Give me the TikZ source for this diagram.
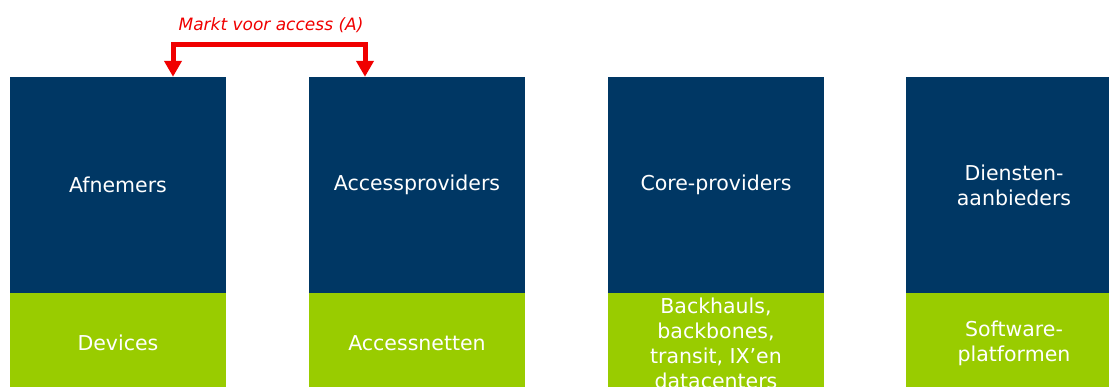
\documentclass[tikz,border=0pt]{standalone}
\usepackage{fontspec}
\setmainfont{DejaVu Sans}
\usetikzlibrary{arrows.meta}
\definecolor{kpnblue}{RGB}{0,55,100}
\definecolor{kpngreen}{RGB}{153,204,0}
\definecolor{kpnred}{RGB}{240,0,0}
\begin{document}
\begin{tikzpicture}
  [x=1pt,y=1pt,
   every node/.style={rectangle,inner sep=0pt,text=white,align=center,
     minimum width=216pt,font=\fontsize{20.5}{25}\selectfont},
   laag/.style={fill=kpnblue,minimum height=216pt},
   net/.style={fill=kpngreen,minimum height=100pt},
   markt/.style={draw=kpnred,line width=5pt,
     {Triangle[width=17pt,length=16pt]}-{Triangle[width=17pt,length=16pt]}}]
  \useasboundingbox (0,0) rectangle (1109,387);
  \clip (0,0) rectangle (1109,387);
  \node (afn)[laag] at (118,202)  {Afnemers};
  \node (acc)[laag] at (417,202)  {Accessproviders};
  \node (core)[laag] at (716,202) {Core-providers};
  \node (dien)[laag] at (1014,202) {Diensten-\\aanbieders};
  \node (dev)[net] at (118,44)  {Devices};
  \node (accn)[net] at (417,44) {Accessnetten};
  \node (back)[net] at (716,44) {Backhauls,\\backbones,\\transit, IX’en\\datacenters};
  \node (soft)[net] at (1014,44) {Software-\\platformen};

  \node (mA)[text=kpnred,minimum width=0pt,font=\fontsize{17}{20}\selectfont\itshape]
    at (271,362) {Markt voor access (A)};
  \draw[markt] ([xshift=55pt]afn.north) -- ++(0,32.5) -| ([xshift=-52pt]acc.north);

\end{tikzpicture}
\end{document}
